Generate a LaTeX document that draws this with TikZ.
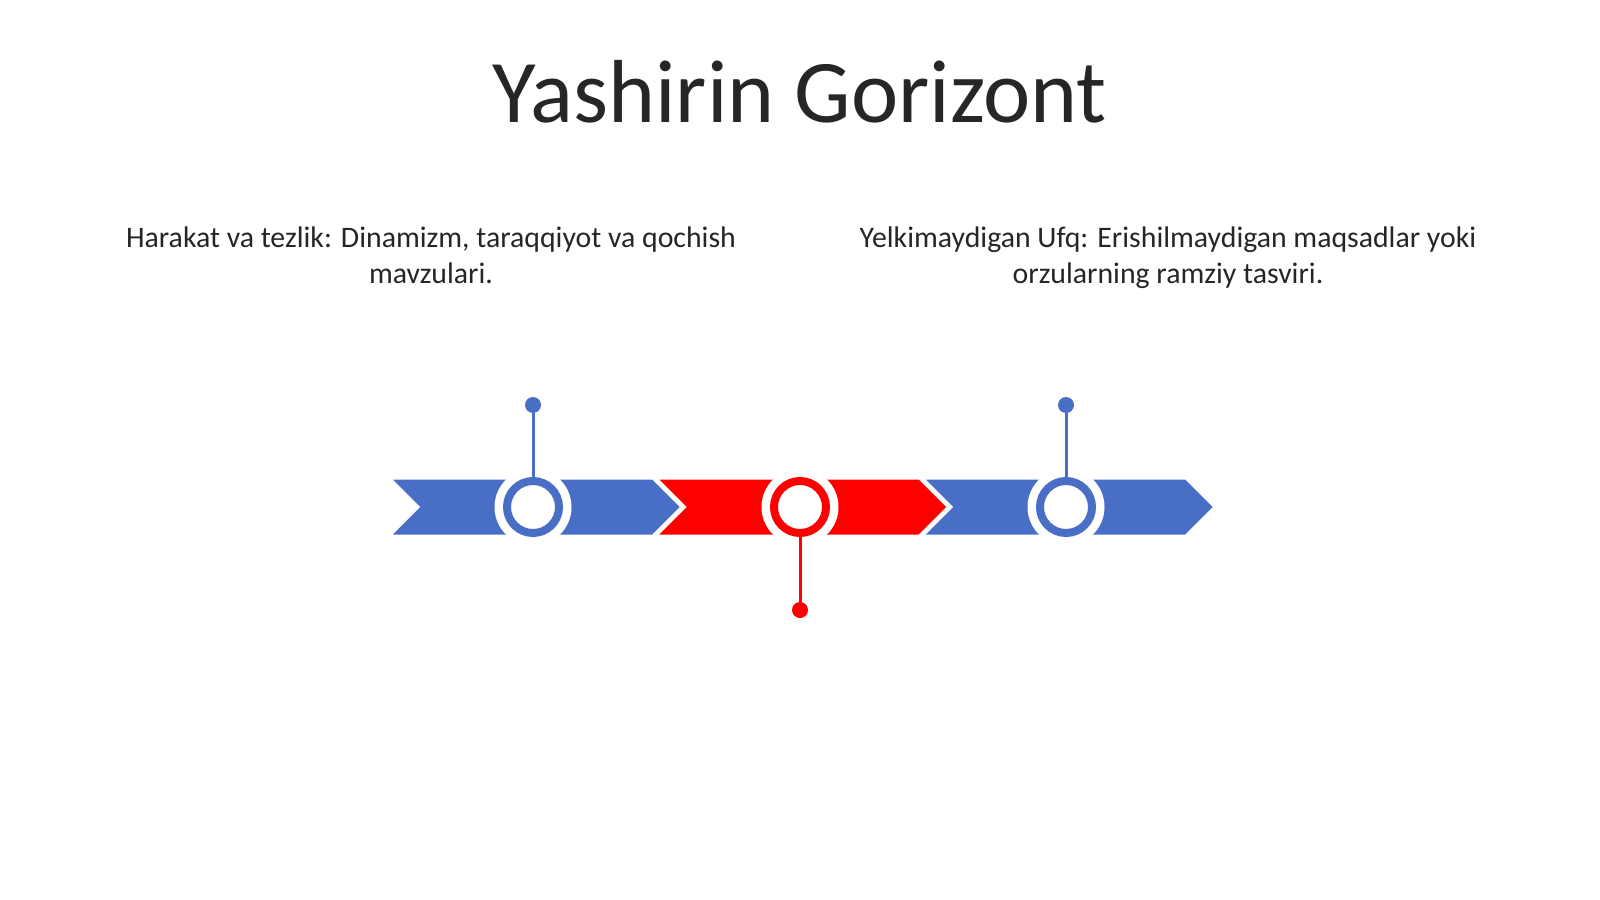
\documentclass[tikz,border=0pt]{standalone}
\usepackage{fontspec}
\setmainfont{Carlito}
\usetikzlibrary{positioning}
\definecolor{tlblue}{RGB}{72,110,198}
\definecolor{tlred}{RGB}{255,0,0}
\definecolor{txtgray}{RGB}{38,38,38}
\tikzset{
  chevron/.style={fill=#1, draw=white, line width=3pt, line join=miter},
  halo/.style={circle, fill=white, minimum size=77pt, inner sep=0pt},
  ring/.style={circle, draw=#1, line width=8pt, fill=white, minimum size=52pt, inner sep=0pt},
  pin/.style={circle, fill=#1, minimum size=16pt, inner sep=0pt},
  stem/.style={draw=#1, line width=3pt},
  caption/.style={text=txtgray, font=\fontsize{29.8}{36}\selectfont, align=center}
}

\begin{document}
\begin{tikzpicture}[x=1pt, y=-1pt]
  \useasboundingbox (0,0) rectangle (1600,899);
  % title
  \node[text=txtgray, font=\fontsize{89.5}{100}\selectfont] (title) at (800,92) {Yashirin Gorizont};
  % captions
  \node[caption] (capleft) at (431,255) {Harakat va tezlik: Dinamizm, taraqqiyot va qochish\\mavzulari.};
  \node[caption] (capright) at (1168,258) {Yelkimaydigan Ufq: Erishilmaydigan maqsadlar yoki\\orzularning ramziy tasviri.};
  % timeline arrows
  \foreach \i/\col in {0/tlblue, 1/tlred, 2/tlblue}{
    \pgfmathsetmacro{\dx}{266.5*\i}
    \draw[chevron=\col] (389+\dx,478) -- (653+\dx,478) -- (682+\dx,507) -- (653+\dx,536)
      -- (389+\dx,536) -- (418+\dx,507) -- cycle;
  }
  % milestones
  \node[halo] (h1) at (533,507) {};
  \node[halo] (h2) at (800,507) {};
  \node[halo] (h3) at (1066,507) {};
  \node[ring=tlblue] (r1) at (h1) {};
  \node[ring=tlred] (r2) at (h2) {};
  \node[ring=tlblue] (r3) at (h3) {};
  \node[pin=tlblue] (p1) at (533,405) {};
  \node[pin=tlred] (p2) at (800,610) {};
  \node[pin=tlblue] (p3) at (1066,405) {};
  \draw[stem=tlblue] (r1) -- (p1);
  \draw[stem=tlred] (r2) -- (p2);
  \draw[stem=tlblue] (r3) -- (p3);
\end{tikzpicture}
\end{document}
